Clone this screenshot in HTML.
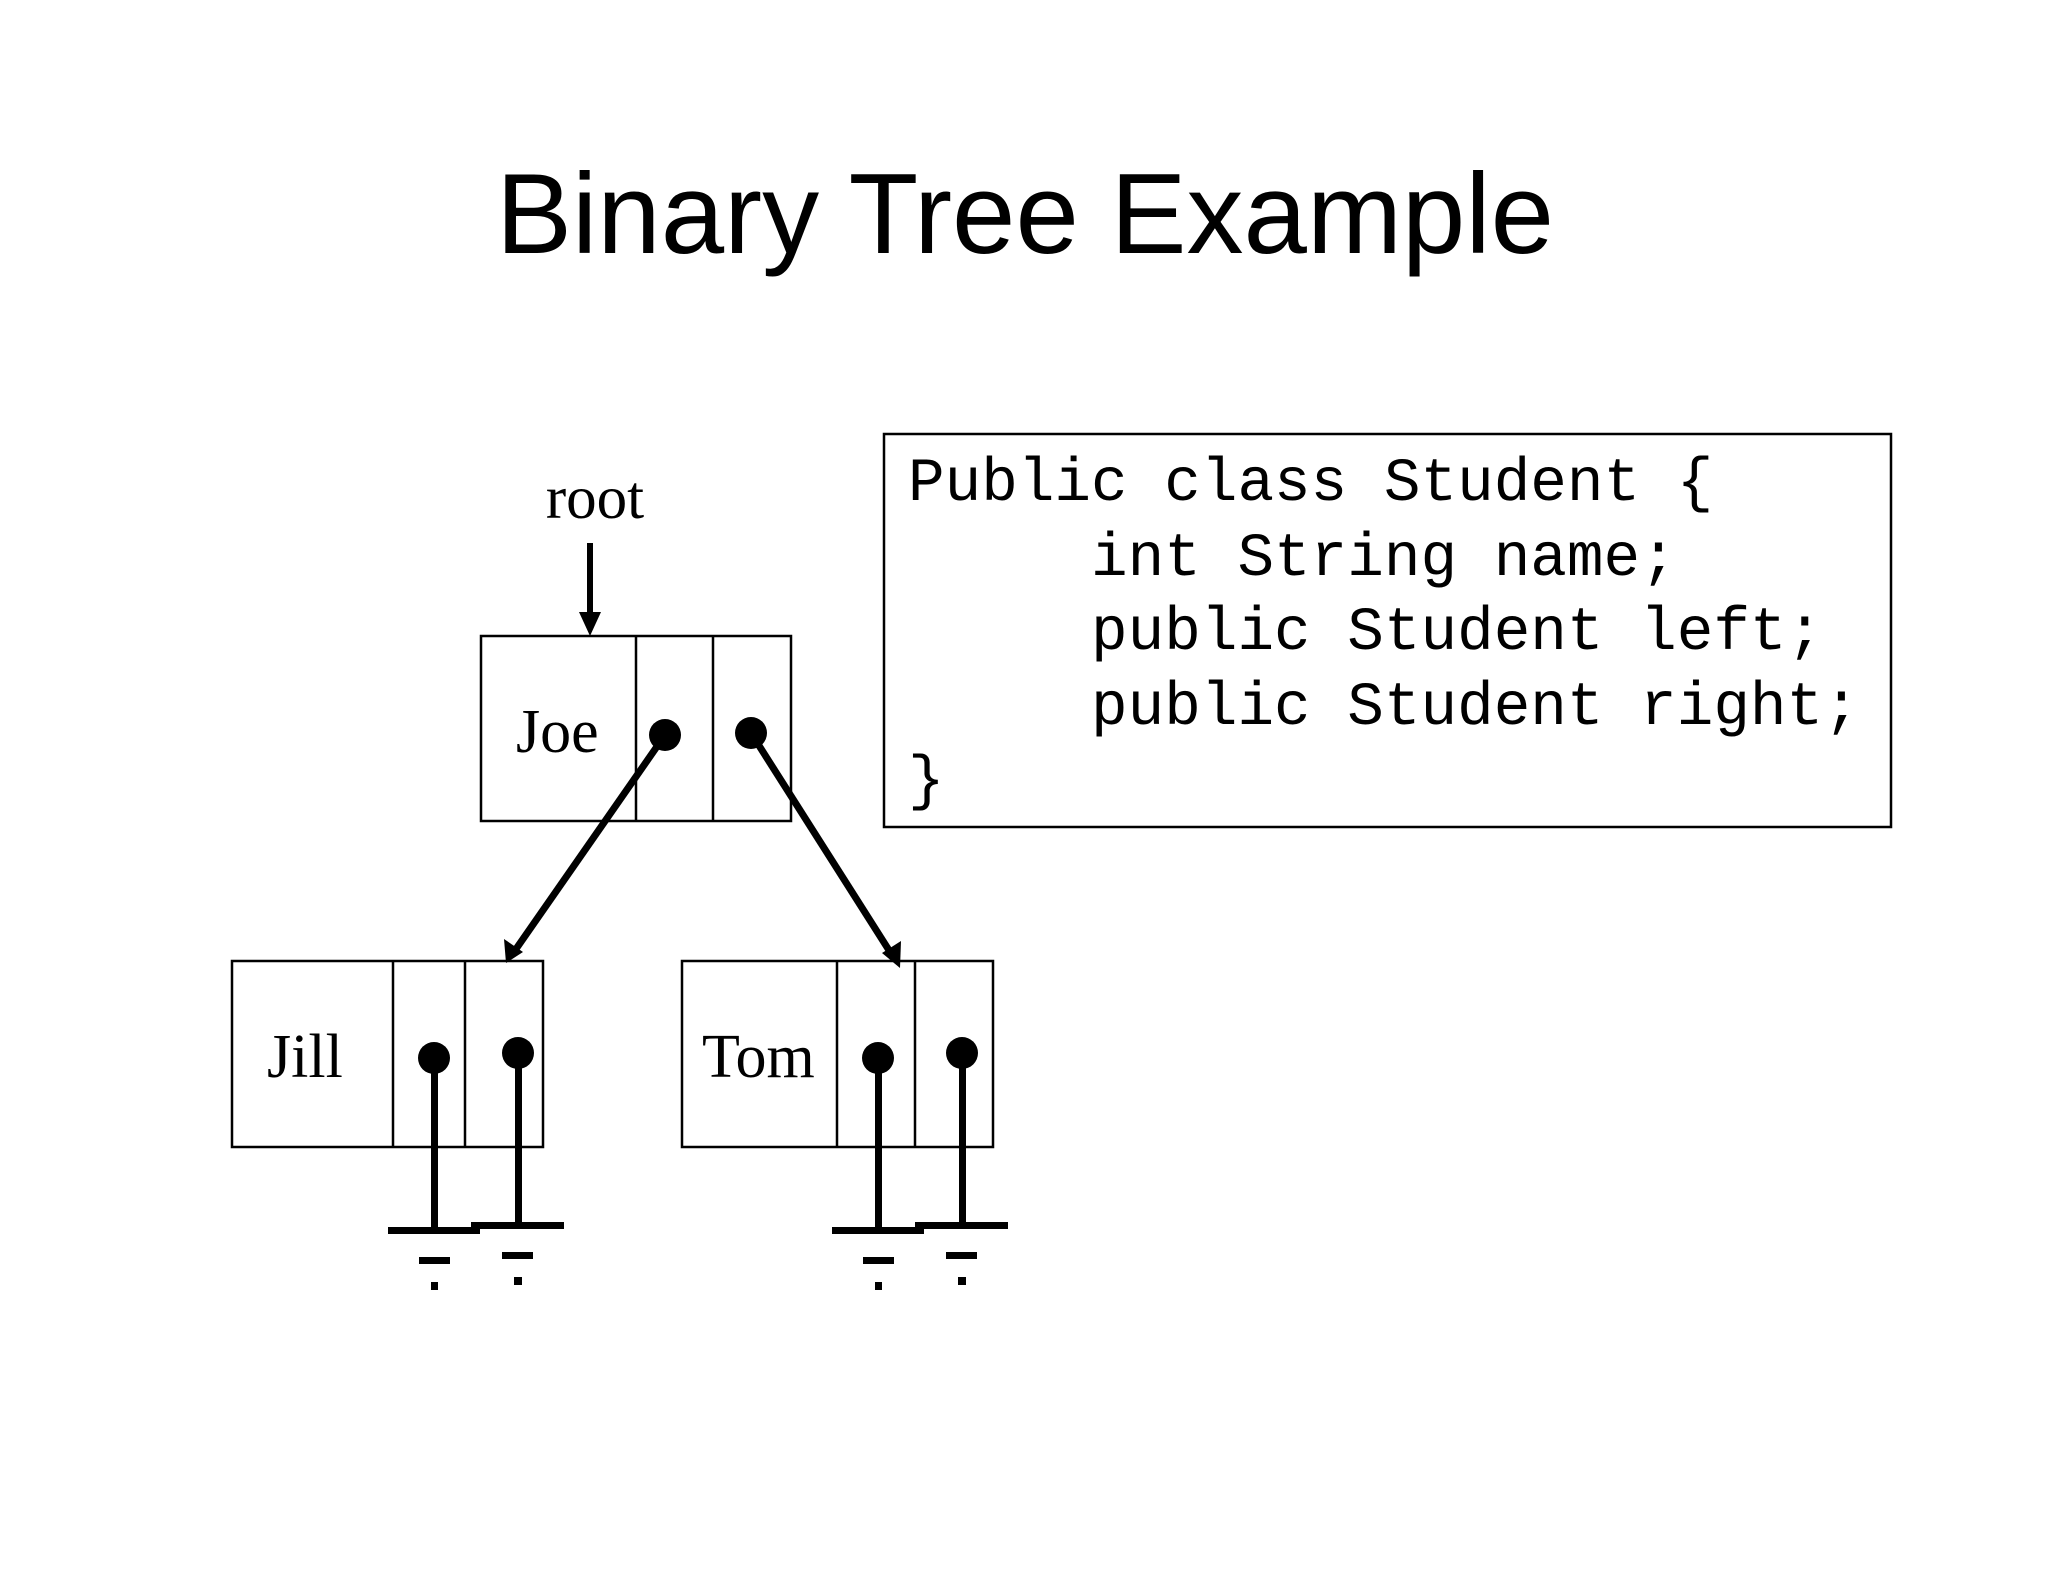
<!DOCTYPE html>
<html><head><meta charset="utf-8"><style>
html,body{margin:0;padding:0;background:#fff;}
svg{display:block;}
.code text{white-space:pre;}
</style></head><body>
<svg width="2048" height="1582" viewBox="0 0 2048 1582" xmlns="http://www.w3.org/2000/svg">
<text x="1025" y="253" font-family="Liberation Sans, sans-serif" font-size="114" text-anchor="middle">Binary Tree Example</text>

<!-- code box -->
<rect x="884" y="434" width="1007" height="393" fill="none" stroke="#000" stroke-width="2.5"/>
<g class="code" font-family="Liberation Mono, monospace" font-size="61" style="white-space:pre">
<text x="908" y="500">Public class Student {</text>
<text x="908" y="575">     int String name;</text>
<text x="908" y="649">     public Student left;</text>
<text x="908" y="724">     public Student right;</text>
<text x="908" y="798">}</text>
</g>

<!-- root -->
<text x="595" y="518" font-family="Liberation Serif, serif" font-size="61" text-anchor="middle">root</text>
<line x1="590" y1="543" x2="590" y2="615" stroke="#000" stroke-width="6"/>
<polygon points="579,612 601,612 590,636" fill="#000"/>

<!-- boxes -->
<g fill="none" stroke="#000" stroke-width="2.5">
<rect x="481" y="636" width="310" height="185"/>
<line x1="636" y1="636" x2="636" y2="821"/><line x1="713" y1="636" x2="713" y2="821"/>
<rect x="232" y="961" width="311" height="186"/>
<line x1="393" y1="961" x2="393" y2="1147"/><line x1="465" y1="961" x2="465" y2="1147"/>
<rect x="682" y="961" width="311" height="186"/>
<line x1="837" y1="961" x2="837" y2="1147"/><line x1="915" y1="961" x2="915" y2="1147"/>
</g>
<g font-family="Liberation Serif, serif" font-size="62">
<text x="516" y="752">Joe</text>
<text x="267" y="1077">Jill</text>
<text x="702" y="1077">Tom</text>
</g>

<!-- Joe pointers -->
<circle cx="665" cy="735" r="16"/>
<circle cx="751" cy="733" r="16"/>
<line x1="665" y1="735" x2="516" y2="949" stroke="#000" stroke-width="7"/>
<polygon points="506,963 504,939 523,952" fill="#000"/>
<line x1="751" y1="733" x2="892" y2="955" stroke="#000" stroke-width="7"/>
<polygon points="900,968 882,953 901,941" fill="#000"/>

<g fill="#000">
<circle cx="434" cy="1058" r="16"/><circle cx="518" cy="1053" r="16"/>
<rect x="431" y="1058" width="7" height="172"/><rect x="515" y="1053" width="7" height="172"/>
<rect x="388" y="1227" width="92" height="7"/><rect x="471" y="1222" width="93" height="7"/>
<rect x="419" y="1257" width="31" height="7"/><rect x="431" y="1282" width="7" height="8"/>
<rect x="502" y="1252" width="31" height="7"/><rect x="514" y="1277" width="8" height="8"/>

<circle cx="878" cy="1058" r="16"/><circle cx="962" cy="1053" r="16"/>
<rect x="875" y="1058" width="7" height="172"/><rect x="959" y="1053" width="7" height="172"/>
<rect x="832" y="1227" width="92" height="7"/><rect x="915" y="1222" width="93" height="7"/>
<rect x="863" y="1257" width="31" height="7"/><rect x="875" y="1282" width="7" height="8"/>
<rect x="946" y="1252" width="31" height="7"/><rect x="958" y="1277" width="8" height="8"/>
</g>
</svg>
</body></html>
